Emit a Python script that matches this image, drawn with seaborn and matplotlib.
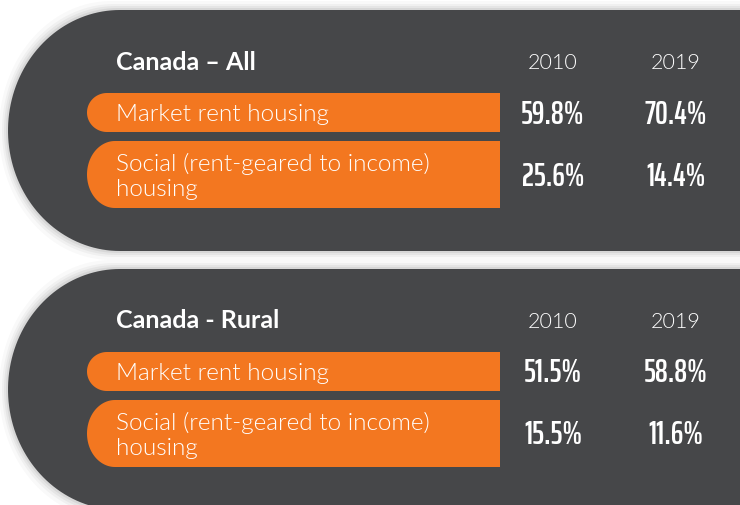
import matplotlib
matplotlib.use("Agg")
import numpy as np
import matplotlib.pyplot as plt
import seaborn as sns
from matplotlib.path import Path
from matplotlib.patches import PathPatch

# ---- data ----
panel_titles = ["Canada – All", "Canada - Rural"]
years = ["2010", "2019"]
categories = ["Market rent housing", "Social (rent-geared to income)\nhousing"]
all_2010 = [59.8, 25.6]
all_2019 = [70.4, 14.4]
rural_2010 = [51.5, 15.5]
rural_2019 = [58.8, 11.6]
panel_values = [(all_2010, all_2019), (rural_2010, rural_2019)]

# ---- style ----
sns.set_theme(style="white")
DARK = "#464749"
ORANGE = "#f37720"
WHITE = "#ffffff"
LABEL_FONT = "Lato"
NUM_FONT = "Saira ExtraCondensed"

W, H = 740, 506
fig = plt.figure(figsize=(W / 100, H / 100), dpi=100)
ax = fig.add_axes([0, 0, 1, 1])
ax.set_xlim(0, W)
ax.set_ylim(H, 0)
ax.axis("off")
fig.patch.set_facecolor("white")


def left_round_shape(x_left, top, bottom, rx, x_right, grow=0.0):
    """Closed path: flat right part, half-ellipse on the left."""
    top -= grow
    bottom += grow
    x_left -= grow
    ry = (bottom - top) / 2.0
    cx = x_left + rx
    cy = (top + bottom) / 2.0
    t = np.linspace(np.pi / 2, 3 * np.pi / 2, 80)
    arc_x = cx + rx * np.cos(t)
    arc_y = cy - ry * np.sin(t)
    pts = [(cx, top), (x_right, top), (x_right, bottom), (cx, bottom)]
    arc = list(zip(arc_x[::-1], arc_y[::-1]))
    pts += arc
    pts.append((cx, top))
    codes = [Path.MOVETO] + [Path.LINETO] * (len(pts) - 2) + [Path.CLOSEPOLY]
    return Path(pts, codes)


panel_tops = [11, 270]
panel_h = 241
for pi, (title, (v10, v19)) in enumerate(zip(panel_titles, panel_values)):
    top = panel_tops[pi]
    bottom = top + panel_h
    # soft shadow
    for g, a in [(9, 0.025), (6, 0.035), (4, 0.045), (2, 0.06)]:
        ax.add_patch(PathPatch(left_round_shape(8, top, bottom, 112, W + 20, grow=g),
                               facecolor="black", edgecolor="none", alpha=a, zorder=1))
    ax.add_patch(PathPatch(left_round_shape(8, top, bottom, 112, W + 20),
                           facecolor=DARK, edgecolor="none", zorder=2))

    # header row
    ax.text(116, top + 51, title, color=WHITE, fontsize=18, fontweight="bold",
            family=LABEL_FONT, ha="left", va="center", zorder=5)
    for yx, yr in zip([553, 676], years):
        ax.text(yx, top + 52, yr, color=WHITE, fontsize=15.5, fontweight=300,
                family=LABEL_FONT, ha="center", va="center", zorder=5)

    # category bands
    band_tops = [top + 83, top + 131]
    band_hs = [39, 67]
    band_rx = [20, 28]
    for bi, (cat, bt, bh, brx) in enumerate(zip(categories, band_tops, band_hs, band_rx)):
        ax.add_patch(PathPatch(left_round_shape(87, bt, bt + bh, brx, 500),
                               facecolor=ORANGE, edgecolor="none", zorder=3))
        ax.text(116, bt + bh / 2 + 1, cat, color=WHITE, fontsize=17.5, fontweight=300,
                family=LABEL_FONT, ha="left", va="center", linespacing=1.25, zorder=5)
        for yx, vals in zip([553, 676], [v10, v19]):
            ax.text(yx, bt + bh / 2 + 1, f"{vals[bi]:.1f}%", color=WHITE, fontsize=23,
                    fontweight="semibold", family=NUM_FONT, ha="center", va="center", zorder=5)

fig.savefig("out.png", dpi=100, facecolor="white")
